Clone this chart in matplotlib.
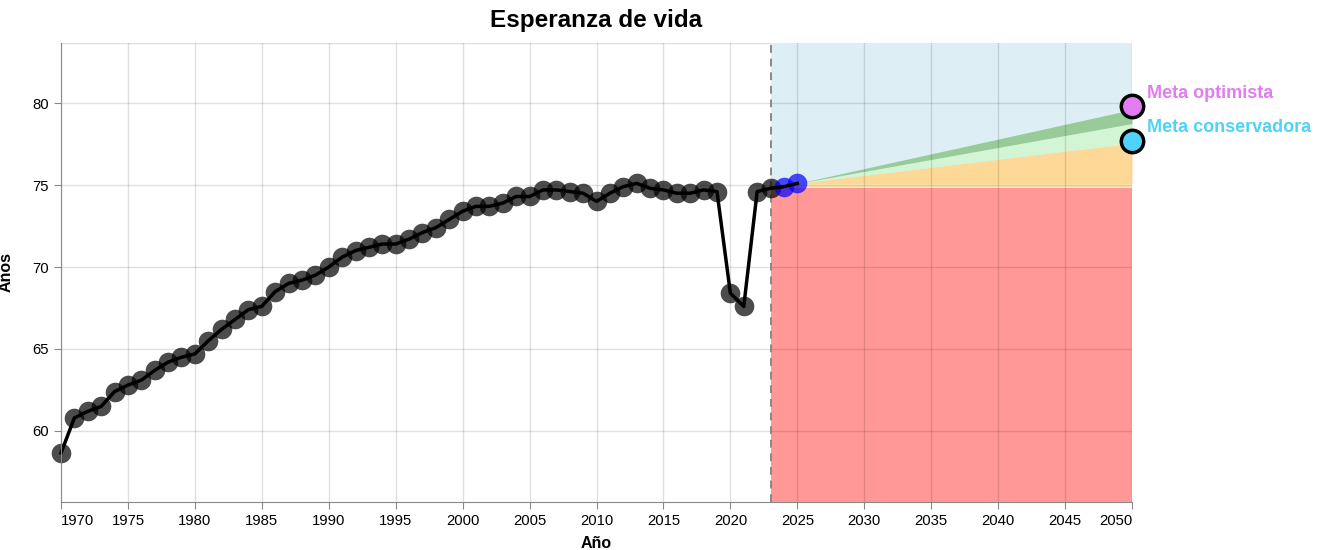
import matplotlib.pyplot as plt
import numpy as np

plt.rcParams["font.family"] = ["Liberation Sans", "DejaVu Sans"]

# historical life expectancy (black) and recent estimates (blue)
years = list(range(1970, 2024))
life = [58.66, 60.8, 61.2, 61.5, 62.4, 62.8, 63.1, 63.7, 64.2, 64.5,
        64.7, 65.5, 66.2, 66.8, 67.4, 67.6, 68.5, 69.0, 69.2, 69.5,
        70.0, 70.6, 71.0, 71.2, 71.4, 71.4, 71.7, 72.1, 72.4, 72.9,
        73.4, 73.7, 73.7, 73.9, 74.3, 74.3, 74.7, 74.7, 74.6, 74.5,
        74.0, 74.5, 74.9, 75.1, 74.8, 74.7, 74.5, 74.5, 74.7, 74.6,
        68.4, 67.6, 74.6, 74.8]
est_years = [2024, 2025]
est_life = [74.9, 75.1]

# projection bands ending in 2050 (top of orange, light green, dark green)
end_year = 2050
band_ends = [77.55, 78.75, 79.6]
goal_names = ["Meta optimista", "Meta conservadora"]
goal_values = [79.8, 77.7]
goal_colors = ["#e37cf2", "#4fd3fa"]

W, H = 1328, 550
fig = plt.figure(figsize=(W / 100, H / 100), dpi=100)
ax = fig.add_axes([61 / W, 1 - 502 / H, (1132 - 61) / W, (502 - 43) / H])

ymin, ymax = 55.67, 83.66
ax.set_xlim(1970, end_year)
ax.set_ylim(ymin, ymax)

start_year = years[-1]
start_val = life[-1]
cone_year = est_years[-1]
cone_val = est_life[-1]

# background bands
ax.fill_between([start_year, end_year], ymin, ymax, color="#ddeef5", lw=0, zorder=0.5)
ax.fill_between([start_year, end_year], ymin, start_val, color="#ff9896", lw=0, zorder=0.6)
ax.fill_between([start_year, end_year], start_val, cone_val, color="#fde6ad", lw=0, zorder=0.6)

cx = np.array([start_year, cone_year, end_year])
lows = [np.array([cone_val, cone_val, cone_val])]
for e in band_ends:
    lows.append(np.array([cone_val, cone_val, e]))
band_colors = ["#fdd896", "#d3f5d3", "#98cb98"]
for i, c in enumerate(band_colors):
    ax.fill_between(cx, lows[i], lows[i + 1], color=c, lw=0, zorder=0.7)

# grid on top of the bands
for x in range(1970, 2051, 5):
    ax.axvline(x, color="black", alpha=0.12, lw=1, zorder=1)
for y in range(60, 81, 5):
    ax.axhline(y, color="black", alpha=0.12, lw=1, zorder=1)
ax.axhline(ymax, xmax=(start_year - 1970) / (end_year - 1970), color="#dddddd", lw=1, zorder=0.4)

ax.axvline(start_year, color="#888888", lw=1.4, ls=(0, (4, 3)), zorder=2)

# data
ax.scatter(years, life, s=200, color="black", alpha=0.7, lw=0, zorder=3, clip_on=False)
ax.scatter(est_years, est_life, s=200, color="#0000ff", alpha=0.7, lw=0, zorder=3)
ax.plot(years + est_years, life + est_life, color="black", lw=2.5, zorder=4, clip_on=False)

# goals
for name, v, c in zip(goal_names, goal_values, goal_colors):
    ax.scatter([end_year], [v], s=260, color=c, edgecolor="black", lw=2.5,
               zorder=6, clip_on=False)
    ax.annotate(name, (end_year, v), xytext=(11, 9.5), textcoords="offset points",
                ha="left", va="center", color=c, fontsize=13, fontweight="bold")

# axes styling
for s in ["top", "right"]:
    ax.spines[s].set_visible(False)
for s in ["left", "bottom"]:
    ax.spines[s].set_color("#888888")
    ax.spines[s].set_zorder(5)
ax.set_xticks(range(1970, 2051, 5))
ax.set_yticks(range(60, 81, 5))
ax.tick_params(colors="#888888", labelcolor="black", labelsize=10.7, length=5)
labels = ax.get_xticklabels()
labels[0].set_ha("left")
labels[-1].set_ha("right")

ax.set_xlabel("Año", fontsize=11.5, fontweight="bold", labelpad=6)
ax.set_ylabel("Años", fontsize=11.5, fontweight="bold", labelpad=14)
fig.text(596 / W, 1 - 21 / H, "Esperanza de vida", ha="center", va="center",
         fontsize=17.5, fontweight="bold")

fig.savefig("out.png", dpi=100)
